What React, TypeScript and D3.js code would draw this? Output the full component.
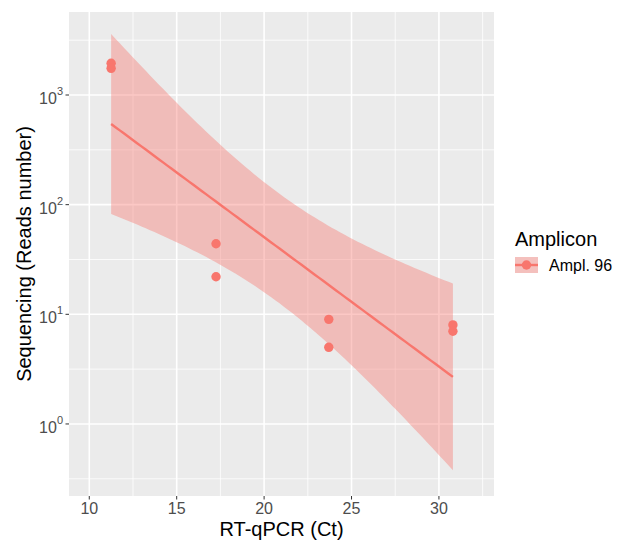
import * as d3 from 'd3';

// RT-qPCR Ct vs read counts (Ampl. 96)
const ct = [11.25, 11.25, 17.25, 17.25, 23.7, 23.7, 30.8, 30.8];
const reads = [1950, 1750, 44, 22, 9, 5, 8, 7];
const xTicks = [10, 15, 20, 25, 30];
const xMinor = [12.5, 17.5, 22.5, 27.5, 32.5];
const yExp = [0, 1, 2, 3];
const yMinorExp = [-0.5, 0.5, 1.5, 2.5, 3.5];
const seriesName = 'Ampl. 96';
const legendTitle = 'Amplicon';
const xTitle = 'RT-qPCR (Ct)';
const yTitle = 'Sequencing (Reads number)';

const T_975_DF6 = 2.4469;
const W = 620;
const H = 541;
const panel = { left: 69, right: 494, top: 12, bottom: 496 };
const col = '#F8766D';
const font = '"Liberation Sans", Arial, sans-serif';

// lm(log10(reads) ~ ct) with 95% confidence band, as geom_smooth(method = "lm")
function fitLm() {
  const ly = reads.map(v => Math.log10(v));
  const n = ct.length;
  const mx = d3.mean(ct)!;
  const my = d3.mean(ly)!;
  const sxx = d3.sum(ct, v => (v - mx) ** 2);
  const sxy = d3.sum(ct, (v, i) => (v - mx) * (ly[i] - my));
  const b = sxy / sxx;
  const a = my - b * mx;
  const ssr = d3.sum(ct, (v, i) => (ly[i] - (a + b * v)) ** 2);
  const s = Math.sqrt(ssr / (n - 2));
  const [x0, x1] = d3.extent(ct) as [number, number];
  const xs = d3.range(80).map(i => x0 + (x1 - x0) * i / 79);
  return xs.map(x => {
    const fit = a + b * x;
    const se = s * Math.sqrt(1 / n + (x - mx) ** 2 / sxx);
    return { x, fit: 10 ** fit, lo: 10 ** (fit - T_975_DF6 * se), hi: 10 ** (fit + T_975_DF6 * se) };
  });
}

export default function App() {
  const x = d3.scaleLinear().domain([8.84, 33.15]).range([panel.left, panel.right]);
  const y = d3.scaleLog().domain([10 ** -0.657, 10 ** 3.757]).range([panel.bottom, panel.top]);
  const band = fitLm();

  const area = d3.area<any>().x(d => x(d.x)).y0(d => y(d.lo)).y1(d => y(d.hi));
  const line = d3.line<any>().x(d => x(d.x)).y(d => y(d.fit));
  const cy = (panel.top + panel.bottom) / 2;
  const cx = (panel.left + panel.right) / 2;

  return (
    <svg width={W} height={H} style={{ position: 'absolute', left: 0, top: 0, background: '#fff' }} fontFamily={font}>
      <rect x={panel.left} y={panel.top} width={panel.right - panel.left} height={panel.bottom - panel.top} fill="#EBEBEB" />
      <g stroke="#fff">
        {yMinorExp.map(e => (
          <line key={'ym' + e} x1={panel.left} x2={panel.right} y1={y(10 ** e)} y2={y(10 ** e)} strokeWidth={0.8} />
        ))}
        {xMinor.map(v => (
          <line key={'xm' + v} x1={x(v)} x2={x(v)} y1={panel.top} y2={panel.bottom} strokeWidth={0.8} />
        ))}
        {yExp.map(e => (
          <line key={'yM' + e} x1={panel.left} x2={panel.right} y1={y(10 ** e)} y2={y(10 ** e)} strokeWidth={1.6} />
        ))}
        {xTicks.map(v => (
          <line key={'xM' + v} x1={x(v)} x2={x(v)} y1={panel.top} y2={panel.bottom} strokeWidth={1.6} />
        ))}
      </g>

      <path d={area(band)!} fill={col} fillOpacity={0.4} />
      <path d={line(band)!} fill="none" stroke={col} strokeWidth={2.4} />
      {ct.map((v, i) => (
        <circle key={i} cx={x(v)} cy={y(reads[i])} r={4.7} fill={col} />
      ))}

      {/* axes */}
      <g stroke="#333" strokeWidth={1}>
        {xTicks.map(v => (
          <line key={v} x1={x(v)} x2={x(v)} y1={panel.bottom} y2={panel.bottom + 3.5} />
        ))}
        {yExp.map(e => (
          <line key={e} x1={panel.left - 3.5} x2={panel.left} y1={y(10 ** e)} y2={y(10 ** e)} />
        ))}
      </g>
      <g fill="#4D4D4D" fontSize={16}>
        {xTicks.map(v => (
          <text key={v} x={x(v)} y={panel.bottom + 18} textAnchor="middle">{v}</text>
        ))}
        {yExp.map(e => (
          <text key={e} x={panel.left - 6} y={y(10 ** e) + 9} textAnchor="end">
            10<tspan dy={-9} fontSize={11}>{e}</tspan>
          </text>
        ))}
      </g>
      <text x={cx} y={536} textAnchor="middle" fontSize={20} fill="#000">{xTitle}</text>
      <text transform={`translate(31,${cy}) rotate(-90)`} textAnchor="middle" fontSize={20} fill="#000">{yTitle}</text>

      {/* legend */}
      <text x={515} y={246} fontSize={20} fill="#000">{legendTitle}</text>
      <rect x={515} y={257} width={23} height={16} fill="#F2F2F2" />
      <rect x={515} y={257} width={23} height={16} fill={col} fillOpacity={0.4} />
      <line x1={515} x2={538} y1={265} y2={265} stroke={col} strokeWidth={2.4} />
      <circle cx={526.5} cy={265} r={4.7} fill={col} />
      <text x={549} y={270.5} fontSize={16} fill="#000">{seriesName}</text>
    </svg>
  );
}
